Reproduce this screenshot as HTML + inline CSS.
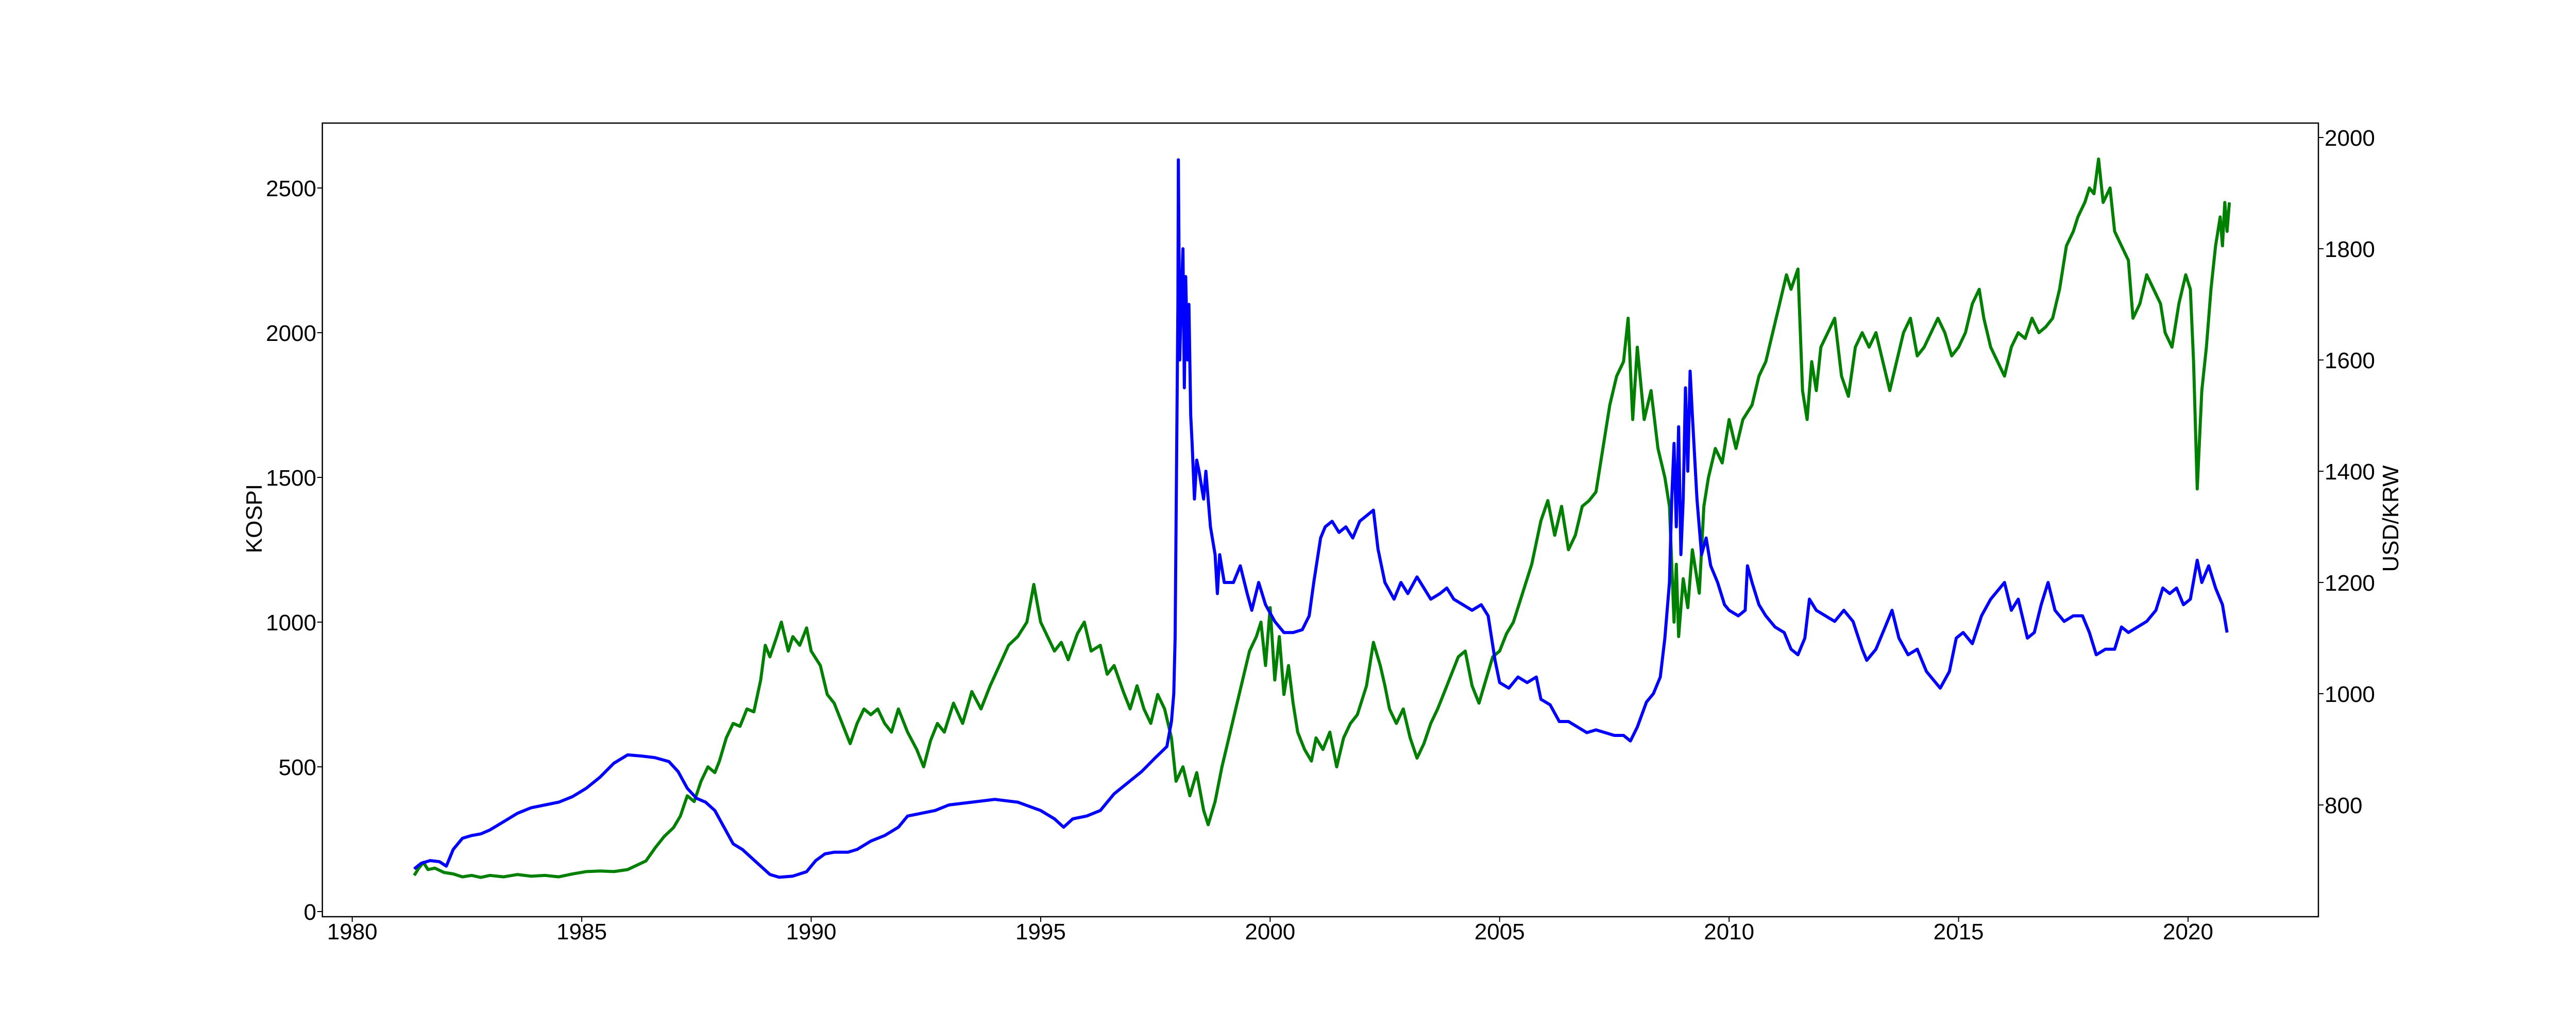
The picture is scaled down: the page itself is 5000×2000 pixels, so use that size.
<!DOCTYPE html>
<html><head><meta charset="utf-8"><style>
html,body{margin:0;padding:0;background:#fff;}
svg{display:block;font-family:"Liberation Sans","DejaVu Sans",sans-serif;}
</style></head><body>
<svg id="chart" width="5000" height="2000" viewBox="0 0 5000 2000" xmlns="http://www.w3.org/2000/svg">
<rect x="0" y="0" width="5000" height="2000" fill="#fff"/>
<g id="plot"></g>
<g id="axes"></g>
</svg>
<script>
const xTicks = [1980,1985,1990,1995,2000,2005,2010,2015,2020];
const leftTicks = [0,500,1000,1500,2000,2500];
const rightTicks = [800,1000,1200,1400,1600,1800,2000];
const kospiYears = [1981.35,1981.45,1981.55,1981.65,1981.8,1982.0,1982.2,1982.4,1982.6,1982.8,1983.0,1983.3,1983.6,1983.9,1984.2,1984.5,1984.8,1985.1,1985.4,1985.7,1986.0,1986.2,1986.4,1986.6,1986.8,1987.0,1987.15,1987.3,1987.45,1987.6,1987.75,1987.9,1988.0,1988.15,1988.3,1988.45,1988.6,1988.75,1988.9,1989.0,1989.1,1989.25,1989.35,1989.5,1989.6,1989.75,1989.9,1990.0,1990.2,1990.35,1990.5,1990.6,1990.75,1990.85,1991.0,1991.15,1991.3,1991.45,1991.6,1991.75,1991.9,1992.1,1992.3,1992.45,1992.6,1992.75,1992.9,1993.1,1993.3,1993.5,1993.7,1993.9,1994.1,1994.3,1994.5,1994.7,1994.85,1995.0,1995.15,1995.3,1995.45,1995.6,1995.8,1995.95,1996.1,1996.3,1996.45,1996.6,1996.8,1996.95,1997.1,1997.25,1997.4,1997.55,1997.7,1997.85,1997.95,1998.1,1998.25,1998.4,1998.55,1998.65,1998.8,1998.95,1999.1,1999.25,1999.4,1999.55,1999.7,1999.8,1999.9,2000.0,2000.1,2000.2,2000.3,2000.4,2000.5,2000.6,2000.75,2000.9,2001.0,2001.15,2001.3,2001.45,2001.6,2001.75,2001.9,2002.1,2002.25,2002.4,2002.5,2002.6,2002.75,2002.9,2003.05,2003.2,2003.35,2003.5,2003.65,2003.8,2003.95,2004.1,2004.25,2004.4,2004.55,2004.7,2004.85,2005.0,2005.15,2005.3,2005.5,2005.7,2005.9,2006.05,2006.2,2006.35,2006.5,2006.65,2006.8,2006.95,2007.1,2007.25,2007.4,2007.55,2007.7,2007.8,2007.9,2008.0,2008.15,2008.3,2008.45,2008.6,2008.7,2008.8,2008.85,2008.9,2009.0,2009.1,2009.2,2009.35,2009.45,2009.55,2009.7,2009.85,2010.0,2010.15,2010.3,2010.5,2010.65,2010.8,2010.95,2011.1,2011.25,2011.35,2011.5,2011.6,2011.7,2011.8,2011.9,2012.0,2012.15,2012.3,2012.45,2012.6,2012.75,2012.9,2013.05,2013.2,2013.35,2013.5,2013.65,2013.8,2013.95,2014.1,2014.25,2014.4,2014.55,2014.7,2014.85,2015.0,2015.15,2015.3,2015.45,2015.55,2015.7,2015.85,2016.0,2016.15,2016.3,2016.45,2016.6,2016.75,2016.9,2017.05,2017.2,2017.35,2017.5,2017.6,2017.75,2017.85,2017.95,2018.05,2018.15,2018.3,2018.4,2018.55,2018.7,2018.8,2018.95,2019.1,2019.25,2019.4,2019.5,2019.65,2019.8,2019.95,2020.05,2020.12,2020.2,2020.3,2020.4,2020.5,2020.6,2020.7,2020.75,2020.8,2020.85,2020.9];
const kospiValues = [125,150,170,145,150,135,130,120,125,118,125,120,128,122,125,120,130,138,140,138,145,160,175,220,260,290,330,400,380,450,500,480,520,600,650,640,700,690,800,920,880,950,1000,900,950,920,980,900,850,750,720,680,620,580,650,700,680,700,650,620,700,620,560,500,590,650,620,720,650,760,700,780,850,920,950,1000,1130,1000,950,900,930,870,960,1000,900,920,820,850,760,700,780,700,650,750,700,600,450,500,400,480,350,300,380,500,600,700,800,900,950,1000,850,1050,800,950,750,850,720,620,560,520,600,560,620,500,600,650,680,780,930,850,780,700,650,700,600,530,580,650,700,760,820,880,900,780,720,800,880,900,960,1000,1100,1200,1350,1420,1300,1400,1250,1300,1400,1420,1450,1600,1750,1850,1900,2050,1700,1950,1700,1800,1600,1500,1400,1000,1200,950,1150,1050,1250,1100,1400,1500,1600,1550,1700,1600,1700,1750,1850,1900,2000,2100,2200,2150,2220,1800,1700,1900,1800,1950,2000,2050,1850,1780,1950,2000,1950,2000,1900,1800,1900,2000,2050,1920,1950,2000,2050,2000,1920,1950,2000,2100,2150,2050,1950,1900,1850,1950,2000,1980,2050,2000,2020,2050,2150,2300,2350,2400,2450,2500,2480,2600,2450,2500,2350,2300,2250,2050,2100,2200,2150,2100,2000,1950,2100,2200,2150,1900,1460,1800,1950,2150,2300,2400,2300,2450,2350,2450];
const usdYears = [1981.35,1981.5,1981.7,1981.9,1982.05,1982.2,1982.4,1982.6,1982.8,1983.0,1983.3,1983.6,1983.9,1984.2,1984.5,1984.8,1985.1,1985.4,1985.7,1986.0,1986.3,1986.6,1986.9,1987.1,1987.3,1987.5,1987.7,1987.9,1988.1,1988.3,1988.5,1988.7,1988.9,1989.1,1989.3,1989.6,1989.9,1990.1,1990.3,1990.5,1990.8,1991.0,1991.3,1991.6,1991.9,1992.1,1992.4,1992.7,1993.0,1993.5,1994.0,1994.5,1995.0,1995.3,1995.5,1995.7,1996.0,1996.3,1996.6,1996.9,1997.2,1997.5,1997.75,1997.85,1997.9,1997.93,1997.96,1997.99,1998.0,1998.03,1998.06,1998.1,1998.13,1998.16,1998.2,1998.23,1998.27,1998.3,1998.35,1998.4,1998.45,1998.55,1998.6,1998.7,1998.8,1998.85,1998.9,1999.0,1999.2,1999.35,1999.5,1999.6,1999.75,1999.9,2000.1,2000.3,2000.5,2000.7,2000.85,2000.95,2001.1,2001.2,2001.35,2001.5,2001.65,2001.8,2001.95,2002.1,2002.25,2002.35,2002.5,2002.7,2002.85,2003.0,2003.2,2003.35,2003.5,2003.7,2003.85,2004.0,2004.2,2004.4,2004.6,2004.75,2004.9,2005.0,2005.2,2005.4,2005.6,2005.8,2005.9,2006.1,2006.3,2006.5,2006.7,2006.9,2007.1,2007.3,2007.5,2007.7,2007.85,2008.0,2008.2,2008.35,2008.5,2008.6,2008.7,2008.75,2008.8,2008.85,2008.9,2008.95,2009.0,2009.05,2009.1,2009.15,2009.2,2009.3,2009.4,2009.5,2009.6,2009.75,2009.9,2010.0,2010.2,2010.35,2010.4,2010.5,2010.65,2010.8,2011.0,2011.2,2011.35,2011.5,2011.65,2011.75,2011.9,2012.1,2012.3,2012.5,2012.7,2012.9,2013.0,2013.2,2013.4,2013.55,2013.7,2013.9,2014.1,2014.3,2014.5,2014.6,2014.8,2014.95,2015.1,2015.3,2015.5,2015.7,2015.8,2016.0,2016.15,2016.3,2016.5,2016.65,2016.8,2016.95,2017.1,2017.3,2017.5,2017.7,2017.85,2018.0,2018.2,2018.4,2018.55,2018.7,2018.9,2019.1,2019.3,2019.45,2019.6,2019.75,2019.9,2020.05,2020.2,2020.3,2020.45,2020.6,2020.75,2020.85];
const usdValues = [685,695,700,698,690,720,740,745,748,755,770,785,795,800,805,815,830,850,875,890,888,885,878,860,830,812,805,790,760,730,720,705,690,675,670,672,680,700,712,715,715,720,735,745,760,780,785,790,800,805,810,805,790,775,760,775,780,790,820,840,860,885,905,950,1000,1100,1400,1700,1960,1600,1700,1800,1550,1750,1600,1700,1500,1450,1350,1420,1400,1350,1400,1300,1250,1180,1250,1200,1200,1230,1180,1150,1200,1160,1130,1110,1110,1115,1140,1200,1280,1300,1310,1290,1300,1280,1310,1320,1330,1260,1200,1170,1200,1180,1210,1190,1170,1180,1190,1170,1160,1150,1160,1140,1060,1020,1010,1030,1020,1030,990,980,950,950,940,930,935,930,925,925,915,940,985,1000,1030,1100,1200,1350,1450,1300,1480,1250,1350,1550,1400,1580,1500,1350,1250,1280,1230,1200,1160,1150,1140,1150,1230,1200,1160,1140,1120,1110,1080,1070,1100,1170,1150,1140,1130,1150,1130,1080,1060,1080,1120,1150,1100,1070,1080,1040,1020,1010,1040,1100,1110,1090,1140,1170,1180,1200,1150,1170,1100,1110,1160,1200,1150,1130,1140,1140,1110,1070,1080,1080,1120,1110,1120,1130,1150,1190,1180,1190,1160,1170,1240,1200,1230,1190,1160,1110];

const L=625.7, R=4500, T=239, B=1780;
function xPos(y){ return 683.7 + (y-1980)*(4247-683.7)/40; }
function yLeft(v){ return 1770 - v*(1770-365)/2500; }
function yRight(v){ return 267 + (2000-v)*(483-267)/200; }
const NS="http://www.w3.org/2000/svg";
const plot=document.getElementById('plot'), axes=document.getElementById('axes');
function mk(tag,attrs,parent){const e=document.createElementNS(NS,tag);for(const k in attrs)e.setAttribute(k,attrs[k]);parent.appendChild(e);return e;}

let d1=kospiYears.map((y,i)=>(i?'L':'M')+xPos(y).toFixed(1)+','+yLeft(kospiValues[i]).toFixed(1)).join('');
const g=mk('path',{d:d1,fill:'none',stroke:'#008000','stroke-width':6,'stroke-linejoin':'round'},plot);


let d2=usdYears.map((y,i)=>(i?'L':'M')+xPos(y).toFixed(1)+','+yRight(usdValues[i]).toFixed(1)).join('');
const b=mk('path',{d:d2,fill:'none',stroke:'#0000ff','stroke-width':6,'stroke-linejoin':'round'},plot);



const frame=mk('rect',{x:L,y:T,width:R-L,height:B-T,fill:'none',stroke:'#000','stroke-width':2.5},axes);



xTicks.forEach(t=>{
  const x=xPos(t);
  const tk=mk('line',{x1:x,x2:x,y1:B,y2:B+10,stroke:'#000','stroke-width':2},axes);
  
  
  const tx=mk('text',{x:x,y:1824,'font-size':44,'text-anchor':'middle',fill:'#000'},axes);
  tx.textContent=t;
  
  
});
leftTicks.forEach(t=>{
  const y=yLeft(t);
  const tk=mk('line',{x1:L-10,x2:L,y1:y,y2:y,stroke:'#000','stroke-width':2},axes);
  
  
  const tx=mk('text',{x:614,y:y+16,'font-size':44,'text-anchor':'end',fill:'#000'},axes);
  tx.textContent=t;
  
  
});
rightTicks.forEach(t=>{
  const y=yRight(t);
  const tk=mk('line',{x1:R,x2:R+10,y1:y,y2:y,stroke:'#000','stroke-width':2},axes);
  
  
  const tx=mk('text',{x:4512,y:y+16,'font-size':44,'text-anchor':'start',fill:'#000'},axes);
  tx.textContent=t;
  
  
});
const yl=mk('text',{x:0,y:0,'font-size':44,'text-anchor':'middle',fill:'#000',transform:'translate(508,1007) rotate(-90)'},axes);
yl.textContent='KOSPI';


const yr=mk('text',{x:0,y:0,'font-size':44,'text-anchor':'middle',fill:'#000',transform:'translate(4655,1007) rotate(-90)'},axes);
yr.textContent='USD/KRW';


</script>
</body></html>
